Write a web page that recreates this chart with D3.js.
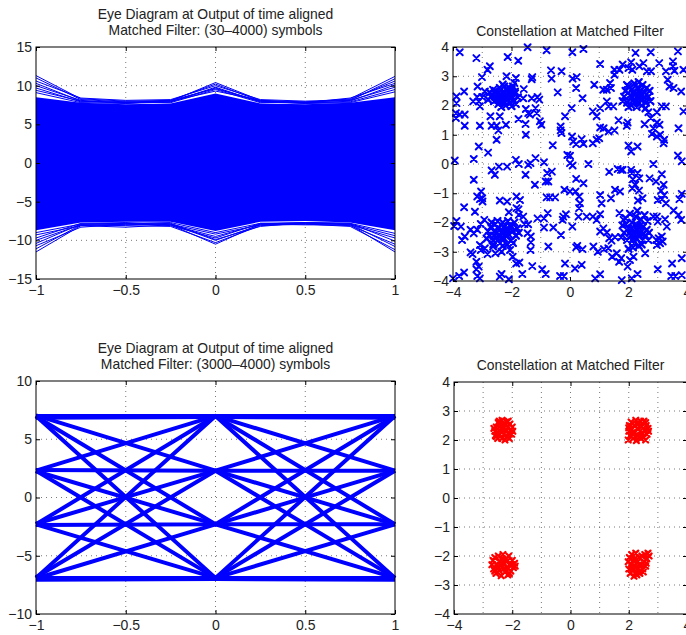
<!DOCTYPE html>
<html>
<head>
<meta charset="utf-8">
<script src="https://cdn.jsdelivr.net/npm/d3@7"></script>
<style>
body {margin: 0; background: #fff}
text {font-family: "Liberation Sans", Arial, Helvetica, sans-serif; fill: #222}
</style>
</head>
<body>
<svg id="fig" width="686" height="635"></svg>
<script>

// ---- eye diagram, 30-4000 symbols (top left) ----
var eyeT = [-1, -0.75, -0.5, -0.25, 0, 0.25, 0.5, 0.75, 1]
var eyeFillTop = [8.5, 7.8, 7.6, 7.7, 9.0, 7.7, 7.6, 7.8, 8.5]
var eyeFillBot = [-8.7, -7.7, -7.6, -7.6, -8.8, -7.6, -7.5, -7.7, -8.7]
var eyeEdgeTraces = [
	[11.3, 8.3, 8.0, 8.1, 10.2, 8.0, 7.8, 8.3, 11.2],
	[11.0, 8.2, 7.9, 8.0, 10.4, 8.1, 7.9, 8.1, 10.9],
	[10.6, 8.4, 8.1, 8.2, 10.0, 8.2, 8.0, 8.2, 10.6],
	[10.3, 8.0, 7.8, 7.9, 9.8, 7.9, 7.8, 8.4, 10.3],
	[10.0, 8.1, 7.7, 8.1, 9.6, 8.0, 7.7, 8.0, 10.1],
	[9.7, 7.9, 7.9, 7.8, 9.5, 7.8, 7.9, 8.1, 9.8],
	[9.4, 8.0, 7.8, 8.0, 9.3, 8.1, 7.8, 7.9, 9.5],
	[9.1, 7.8, 7.7, 7.9, 9.7, 7.9, 7.7, 7.8, 9.2],
	[-11.5, -8.1, -8.3, -8.0, -10.5, -7.9, -7.7, -8.0, -11.5],
	[-11.1, -8.0, -8.1, -8.2, -10.3, -8.1, -7.9, -8.2, -11.2],
	[-10.7, -8.3, -7.9, -7.9, -10.0, -8.0, -7.8, -7.9, -10.8],
	[-10.4, -7.9, -7.8, -8.1, -9.7, -7.8, -7.9, -8.1, -10.5],
	[-10.0, -8.0, -8.0, -7.8, -9.9, -8.2, -7.7, -7.8, -10.1],
	[-9.7, -7.8, -7.7, -8.0, -9.5, -7.9, -8.0, -8.0, -9.7],
	[-9.3, -8.1, -7.9, -7.9, -9.2, -8.0, -7.8, -7.9, -9.4],
	[-9.0, -7.9, -7.8, -7.7, -9.0, -7.8, -7.7, -7.8, -9.1]
]

// ---- eye diagram, 3000-4000 symbols (bottom left) ----
var eye2T = [-1, 0, 1]
var eye2Traces = [
	[7.0, 7.0, 7.0], [7.05, 2.3, 2.3], [6.95, -2.3, -2.3], [7.0, -6.9, -6.9],
	[2.3, 7.0, 2.3], [2.35, 2.3, -2.3], [2.25, -2.3, -6.9], [2.3, -6.9, 7.0],
	[-2.3, 7.0, -2.3], [-2.25, 2.3, -6.9], [-2.35, -2.3, 7.0], [-2.3, -6.9, 2.3],
	[-6.9, 7.0, -6.9], [-6.85, 2.3, 7.0], [-6.95, -2.3, 2.3], [-6.9, -6.9, -2.3],
	[6.85, 6.9, 6.85], [-7.05, -7.0, -7.05]
]

// ---- constellation, noisy (top right) ----
var constScatter = [
	[-3.77,3.82],[-3.2,3.62],[-2.13,3.66],[-1.77,3.53],[-1.45,3.99],[-0.8,3.89],[0.08,3.82],[0.46,3.93],
	[2.24,3.8],[2.76,3.82],[3.69,3.85],[3.52,3.51],[1.03,3.42],[2.51,3.45],[3.05,3.45],[2.09,3.48],
	[-2.82,3.22],[-2.74,3.34],[-3.01,2.97],[-3.16,2.65],[-3.88,2.31],[-3.62,2.48],[-2.17,3.0],[-1.9,2.77],
	[-1.85,2.94],[-1.31,2.9],[-1.29,2.97],[-0.63,2.92],[-0.65,3.2],[-0.29,3.17],[0.09,2.92],[0.23,2.97],
	[0.21,2.6],[-0.42,2.45],[0.43,2.25],[0.83,2.71],[1.26,2.54],[1.14,2.54],[1.37,2.77],[1.52,3.05],
	[1.69,3.22],[1.52,3.22],[1.8,3.4],[1.4,2.6],[2.13,3.22],[2.0,3.28],[2.37,3.34],[2.63,3.17],
	[2.77,3.17],[3.28,3.17],[3.52,3.34],[3.57,3.19],[3.88,3.22],[3.34,2.88],[3.54,2.6],[3.8,2.48],[3.4,2.65],
	[-3.88,2.08],[-3.31,2.14],[-3.12,2.14],[-3.17,2.29],[-3.08,1.97],[-3.0,2.29],[-2.91,2.48],[-2.63,2.54],
	[-1.88,2.48],[-1.6,2.25],[-1.58,2.56],[-1.31,2.25],[-1.11,2.29],[-1.05,2.2],[-1.51,1.88],[-1.43,1.74],
	[-1.37,1.69],[-1.18,1.91],[-1.14,1.74],[-3.9,1.74],[-3.77,1.69],[-3.6,1.69],[-3.9,1.57],[-2.72,1.63],
	[-2.4,1.63],[-1.76,1.54],[0.06,1.91],[-0.17,1.63],[0.78,1.8],[1.03,1.91],[0.91,1.63],[1.26,2.14],
	[1.32,1.97],[1.48,1.97],[3.14,1.97],[3.28,1.97],[2.97,1.77],[2.68,1.77],[2.76,1.57],[3.88,1.8],
	[-3.6,1.31],[-3.08,1.31],[-2.68,1.31],[-2.51,1.31],[-2.45,1.15],[-2.19,1.34],[-2.51,0.83],[-1.52,1.37],
	[-1.51,1.0],[-1.03,1.46],[-0.98,1.34],[-0.32,1.28],[-0.32,1.15],[-0.29,1.06],[-0.59,0.64],[0.07,0.94],
	[0.11,0.77],[0.21,0.68],[0.4,0.85],[0.46,0.69],[0.78,0.71],[1.0,0.88],[0.91,0.83],[1.03,1.25],
	[1.15,1.22],[1.32,1.11],[1.52,1.15],[1.66,1.49],[1.94,1.31],[1.97,1.42],[2.55,1.36],[2.85,1.22],
	[2.97,1.42],[3.06,1.34],[2.8,1.03],[2.97,0.94],[3.08,1.0],[3.22,0.83],[3.2,0.71],[3.71,1.22],
	[2.0,0.63],[2.09,0.43],[2.31,0.6],[-3.12,0.6],[-2.8,0.39],
	[-3.94,0.12],[-3.29,0.17],[-2.68,-0.22],[-2.57,-0.37],[-2.43,-0.09],[-2.15,-0.09],[-1.85,0.14],[-1.75,0.0],
	[-1.52,-0.37],[-1.43,-0.03],[-1.35,0.03],[-1.18,0.2],[-0.89,0.06],[-0.78,-0.31],[-0.62,-0.26],[-0.74,-0.6],
	[-0.09,0.31],[0.0,0.28],[0.0,0.03],[0.09,-0.05],[0.21,-0.51],[0.46,-0.66],[0.63,0.0],[1.34,-0.27],
	[1.63,-0.17],[1.74,-0.2],[2.11,-0.31],[2.15,-0.52],[2.23,-0.71],[2.37,-0.49],[2.85,0.0],[2.72,-0.49],
	[3.14,-0.35],[3.69,0.29],[2.31,-0.31],[1.8,-0.2],[3.82,0.09],[2.09,-0.2],
	[-3.29,-0.54],[-3.17,-1.11],[-3.08,-1.2],[-3.0,-1.17],[-3.04,-0.94],[-2.99,-1.28],[-3.62,-1.48],[-2.4,-1.25],
	[-2.15,-1.28],[-1.83,-1.11],[-1.71,-1.23],[-1.76,-1.55],[-1.2,-0.71],[-0.83,-0.6],[-0.8,-1.14],[-0.68,-1.14],
	[-0.51,-1.14],[-0.19,-0.88],[0.0,-0.94],[0.19,-0.94],[0.31,-1.11],[0.34,-1.34],[0.31,-1.51],[1.03,-1.06],
	[1.08,-1.34],[1.4,-1.17],[1.54,-0.88],[1.71,-0.94],[2.13,-0.83],[2.32,-1.25],[2.36,-0.91],[2.48,-1.17],
	[3.0,-1.23],[3.11,-0.92],[3.2,-0.71],[3.14,-1.2],[3.28,-1.34],[3.74,-1.2],[3.82,-1.02],[2.94,-0.6],[3.22,-1.06],
	[-3.96,-2.12],[-3.88,-1.95],[-3.73,-2.14],[-3.25,-1.63],[-3.05,-2.05],[-2.93,-1.91],[-3.6,-2.48],[-3.69,-2.6],
	[-2.09,-1.65],[-1.83,-1.51],[-1.75,-1.74],[-1.6,-1.8],[-1.56,-2.05],[-1.43,-2.06],[-1.45,-2.37],[-1.34,-2.48],
	[-1.11,-1.86],[-0.89,-2.17],[-0.89,-1.86],[-0.76,-1.68],[-0.57,-2.17],[-0.31,-2.43],[-0.25,-1.91],[-0.23,-1.8],
	[-0.14,-1.72],[0.08,-2.14],[0.29,-1.8],[0.57,-1.8],[0.78,-1.8],[0.91,-1.91],[1.03,-1.72],[1.03,-2.31],
	[1.14,-2.2],[1.26,-2.34],[1.34,-2.54],[1.42,-2.62],[1.54,-2.5],[1.69,-1.68],[1.83,-1.91],[2.85,-1.8],
	[2.97,-1.8],[3.0,-1.97],[3.25,-1.89],[3.54,-1.59],[3.71,-1.74],[3.8,-1.91],[3.31,-2.14],[3.14,-2.48],
	[-3.4,-2.25],[-3.17,-2.25],[-3.29,-2.37],
	[-3.4,-3.02],[-3.33,-3.08],[-3.08,-2.77],[-3.05,-2.94],[-2.91,-2.88],[-2.82,-3.08],[-2.63,-2.82],[-2.55,-3.05],
	[-2.34,-3.0],[-2.05,-2.94],[-1.96,-3.17],[-1.84,-3.4],[-1.73,-3.37],[-1.29,-3.49],[-1.35,-2.94],[-1.34,-2.68],
	[-0.74,-2.82],[0.21,-2.85],[0.25,-2.8],[0.43,-2.91],[0.8,-2.82],[0.95,-3.0],[1.16,-2.91],[1.31,-2.88],
	[1.44,-3.17],[1.6,-3.05],[1.68,-3.34],[1.75,-3.22],[1.97,-3.51],[2.05,-3.28],[2.17,-3.17],[2.57,-3.05],
	[2.95,-2.6],[3.03,-2.54],[3.08,-2.71],[3.17,-2.65],[2.97,-2.77],[3.82,-3.22],[3.49,-3.4],[-0.17,-3.4],
	[-3.2,-3.34],[-3.12,-3.51],
	[-4.0,-3.91],[-3.79,-3.83],[-3.62,-3.71],[-3.2,-3.6],[-3.17,-3.83],[-3.08,-3.91],[-2.34,-3.76],[-2.4,-3.85],
	[-2.09,-3.94],[-1.63,-3.76],[-0.95,-3.6],[-0.83,-3.76],[-0.34,-3.83],[-0.21,-3.83],[0.17,-3.57],[0.4,-3.45],
	[0.86,-3.91],[1.03,-3.77],[1.77,-3.97],[2.11,-3.91],[2.31,-3.76],[3.0,-3.6],[3.46,-3.83],[3.6,-3.83],[3.82,-3.8]
]
var constCoreTL = [
	[-2.65,2.35],[-2.55,2.5],[-2.5,2.2],[-2.45,2.05],[-2.4,2.6],[-2.38,2.38],[-2.33,2.15],[-2.3,2.45],
	[-2.28,2.28],[-2.25,2.65],[-2.2,2.0],[-2.18,2.35],[-2.15,2.52],[-2.12,2.2],[-2.08,2.4],[-2.05,2.1],
	[-2.0,2.55],[-1.98,2.3],[-1.92,2.18],[-1.88,2.42],[-1.85,2.05],[-2.6,2.15],[-2.7,2.3],[-2.35,1.95],
	[-2.22,2.12],[-2.42,2.45],[-2.1,2.62],[-1.95,2.65],[-2.75,2.45],[-1.78,2.28],[-2.5,2.38],[-2.0,1.98],
	[-2.3,2.72],[-2.8,2.2],[-2.25,2.4],[-2.4,2.25],[-2.1,2.3],[-2.55,2.3],[-2.0,2.42],[-2.3,2.1]
]
var constCoreTR = [
	[1.85,2.3],[1.9,2.5],[1.95,2.1],[2.0,2.65],[2.05,2.35],[2.1,2.0],[2.12,2.55],[2.18,2.2],
	[2.2,2.75],[2.25,2.4],[2.28,1.95],[2.3,2.6],[2.33,2.1],[2.38,2.32],[2.4,2.5],[2.45,2.0],
	[2.48,2.7],[2.5,2.22],[2.55,2.45],[2.6,2.1],[2.62,2.6],[2.68,2.3],[2.72,2.5],[2.0,1.95],
	[2.15,2.42],[2.35,2.8],[2.58,1.9],[1.8,2.15],[2.42,2.2],[2.2,2.1],[2.75,2.15],[1.95,2.7],
	[2.28,2.28],[2.45,2.38],[2.1,2.3],[2.35,2.45],[2.55,2.28],[2.25,2.15]
]
var constCoreBL = [
	[-2.8,-2.3],[-2.75,-2.45],[-2.7,-2.15],[-2.65,-2.6],[-2.6,-2.3],[-2.55,-2.05],[-2.5,-2.5],[-2.45,-2.2],
	[-2.4,-2.7],[-2.35,-2.35],[-2.3,-2.0],[-2.25,-2.55],[-2.2,-2.25],[-2.15,-2.75],[-2.1,-2.4],[-2.05,-2.1],
	[-2.0,-2.6],[-1.95,-2.3],[-1.9,-2.0],[-1.85,-2.45],[-1.8,-2.2],[-1.75,-2.35],[-2.62,-2.75],[-2.3,-2.8],
	[-2.48,-1.95],[-2.12,-1.95],[-2.85,-2.55],[-1.95,-2.7],[-2.4,-2.45],[-2.2,-2.45],[-2.0,-2.15],[-2.68,-2.0],
	[-2.3,-2.3],[-2.5,-2.35],[-2.1,-2.25],[-2.35,-2.55],[-2.6,-2.45],[-2.25,-2.15]
]
var constCoreBR = [
	[1.8,-2.1],[1.85,-2.35],[1.9,-1.85],[1.95,-2.6],[2.0,-2.2],[2.05,-1.7],[2.08,-2.45],[2.12,-2.0],
	[2.18,-2.7],[2.2,-2.3],[2.25,-1.8],[2.28,-2.55],[2.3,-2.1],[2.35,-2.8],[2.4,-2.35],[2.42,-1.9],
	[2.48,-2.6],[2.5,-2.15],[2.55,-1.75],[2.58,-2.45],[2.62,-2.25],[2.65,-1.95],[2.68,-2.6],[2.0,-2.9],
	[2.3,-1.6],[1.75,-2.5],[2.15,-2.85],[2.45,-2.75],[2.1,-2.2],[2.35,-2.4],[2.7,-2.35],[1.92,-2.05],
	[2.22,-2.42],[2.4,-2.1],[2.15,-2.6],[2.3,-2.25],[2.5,-2.4],[2.05,-2.35]
]

// ---- constellation, clean (bottom right) ----
var cleanTL = [
	[-2.6,2.3],[-2.58,2.15],[-2.55,2.45],[-2.5,2.05],[-2.48,2.6],[-2.45,2.32],[-2.42,2.2],[-2.4,2.5],
	[-2.36,2.05],[-2.35,2.68],[-2.32,2.38],[-2.3,2.2],[-2.27,2.55],[-2.25,2.0],[-2.22,2.3],[-2.2,2.62],
	[-2.18,2.12],[-2.15,2.45],[-2.12,2.25],[-2.1,2.05],[-2.08,2.55],[-2.05,2.35],[-2.02,2.2],[-2.0,2.45],
	[-2.63,2.4],[-2.52,2.25],[-2.38,2.38],[-2.28,2.45],[-2.14,2.65],[-1.98,2.3],[-2.45,2.65],[-2.55,2.12]
]
var cleanTR = [
	[1.98,2.0],[2.0,2.3],[2.02,2.5],[2.05,2.15],[2.08,2.62],[2.12,2.38],[2.15,2.05],[2.18,2.5],
	[2.2,2.25],[2.24,2.68],[2.26,1.98],[2.3,2.4],[2.32,2.15],[2.35,2.58],[2.38,2.3],[2.42,2.05],
	[2.45,2.48],[2.48,2.22],[2.52,2.65],[2.55,2.35],[2.58,2.0],[2.6,2.5],[2.63,2.2],[2.66,2.4],
	[2.68,2.3],[2.1,2.25],[2.28,2.55],[2.4,2.65],[2.5,2.1],[2.0,2.42],[2.22,2.12],[2.58,2.6]
]
var cleanBL = [
	[-2.7,-2.3],[-2.66,-2.15],[-2.64,-2.45],[-2.6,-2.05],[-2.56,-2.6],[-2.52,-2.3],[-2.48,-2.0],[-2.45,-2.5],
	[-2.42,-2.18],[-2.38,-2.68],[-2.35,-2.38],[-2.32,-1.95],[-2.28,-2.25],[-2.25,-2.55],[-2.22,-2.1],[-2.18,-2.4],
	[-2.15,-2.65],[-2.12,-2.0],[-2.08,-2.3],[-2.05,-2.52],[-2.0,-2.15],[-1.96,-2.4],[-1.92,-2.25],[-1.9,-2.35],
	[-2.5,-2.4],[-2.3,-2.45],[-2.2,-2.2],[-2.4,-2.3],[-2.6,-2.52],[-2.1,-2.6],[-2.35,-2.1],[-2.0,-2.3]
]
var cleanBR = [
	[1.98,-2.2],[2.0,-2.45],[2.02,-2.05],[2.05,-2.6],[2.08,-2.3],[2.1,-1.95],[2.13,-2.5],[2.16,-2.15],
	[2.18,-2.7],[2.2,-2.35],[2.24,-1.9],[2.26,-2.55],[2.3,-2.2],[2.32,-2.42],[2.35,-2.05],[2.38,-2.6],
	[2.42,-2.3],[2.45,-2.0],[2.48,-2.45],[2.52,-2.2],[2.55,-1.95],[2.58,-2.35],[2.62,-2.1],[2.66,-1.9],
	[2.7,-2.0],[2.2,-2.1],[2.35,-2.3],[2.4,-2.5],[2.1,-2.4],[2.28,-2.65],[2.5,-2.55],[2.6,-2.25]
]

// ---- ticks and titles ----
var eyeXTicks = [-1, -0.5, 0, 0.5, 1]
var eyeYTicks1 = [-15, -10, -5, 0, 5, 10, 15]
var eyeYTicks2 = [-10, -5, 0, 5, 10]
var constTicks = [-4, -3, -2, -1, 0, 1, 2, 3, 4]
var constXTicks = [-4, -2, 0, 2, 4]
var titleEye1 = ['Eye Diagram at Output of time aligned', 'Matched Filter: (30\u20134000) symbols']
var titleEye2 = ['Eye Diagram at Output of time aligned', 'Matched Filter: (3000\u20134000) symbols']
var titleConst = ['Constellation at Matched Filter']


var svg = d3.select('#fig'),
	fmt = d3.format('~g'),
	BLUE = '#0000ff',
	RED = '#ff0000'

var Panel = function(box, xdom, ydom, xticks, yticks, gridx, title, titleY) {
	this.box = box
	this.x = d3.scaleLinear().domain(xdom).range([box.l, box.r])
	this.y = d3.scaleLinear().domain(ydom).range([box.b, box.t])
	this.g = svg.append('g')
	var x = this.x, y = this.y, g = this.g

	// dotted grid below the data
	var grid = g.append('g').attr('stroke', '#555').attr('stroke-width', 0.8).attr('stroke-dasharray', '1,4')
	grid.selectAll('.gx').data(gridx.filter(function(t) {return t > xdom[0] && t < xdom[1]}))
		.enter().append('line')
		.attr('x1', x).attr('x2', x).attr('y1', box.t).attr('y2', box.b)
	grid.selectAll('.gy').data(yticks.filter(function(t) {return t > ydom[0] && t < ydom[1]}))
		.enter().append('line')
		.attr('y1', y).attr('y2', y).attr('x1', box.l).attr('x2', box.r)

	this.data = g.append('g')
	this.front = g.append('g')
	var f = this.front

	var style = function(sel) {
		sel.select('.domain').remove()
		sel.selectAll('line').attr('stroke', '#000')
		sel.selectAll('text').attr('font-size', 14).attr('font-family', null).attr('fill', '#222')
	}
	f.append('g').attr('transform', 'translate(0,' + box.b + ')')
		.call(d3.axisBottom(x).tickValues(xticks).tickSize(-4).tickPadding(6).tickFormat(fmt)).call(style)
	f.append('g').attr('transform', 'translate(0,' + box.t + ')')
		.call(d3.axisTop(x).tickValues(xticks).tickSize(-4).tickFormat('')).call(style)
	f.append('g').attr('transform', 'translate(' + box.l + ',0)')
		.call(d3.axisLeft(y).tickValues(yticks).tickSize(-4).tickPadding(4).tickFormat(fmt)).call(style)
	f.append('g').attr('transform', 'translate(' + box.r + ',0)')
		.call(d3.axisRight(y).tickValues(yticks).tickSize(-4).tickFormat('')).call(style)
	f.append('rect')
		.attr('x', box.l).attr('y', box.t).attr('width', box.r - box.l).attr('height', box.b - box.t)
		.attr('fill', 'none').attr('stroke', '#000').attr('stroke-width', 1)

	var cx = (box.l + box.r) / 2
	f.selectAll('.title').data(title).enter().append('text')
		.attr('class', 'title')
		.attr('x', cx)
		.attr('y', function(d, i) {return titleY + (i - title.length + 1) * 16})
		.attr('text-anchor', 'middle')
		.attr('font-size', 13.9)
		.text(function(d) {return d})
}

Panel.prototype.traces = function(ts, traces, color, width) {
	var x = this.x, y = this.y
	var line = d3.line().x(function(d, i) {return x(ts[i])}).y(function(d) {return y(d)})
	this.data.append('g').selectAll('path').data(traces).enter().append('path')
		.attr('d', line).attr('fill', 'none')
		.attr('stroke', color).attr('stroke-width', width)
		.attr('stroke-linejoin', 'round')
}

Panel.prototype.band = function(ts, top, bot, color) {
	var x = this.x, y = this.y
	var area = d3.area()
		.x(function(d, i) {return x(ts[i])})
		.y0(function(d, i) {return y(bot[i])})
		.y1(function(d) {return y(d)})
	this.data.append('path').datum(top).attr('d', area).attr('fill', color)
}

Panel.prototype.crosses = function(pts, color, r, width) {
	var x = this.x, y = this.y
	this.data.append('g').attr('stroke', color).attr('stroke-width', width).attr('stroke-linecap', 'round')
		.selectAll('path').data(pts).enter().append('path')
		.attr('d', function(d) {
			var px = x(d[0]), py = y(d[1])
			return 'M' + (px - r) + ',' + (py - r) + 'L' + (px + r) + ',' + (py + r) +
				'M' + (px - r) + ',' + (py + r) + 'L' + (px + r) + ',' + (py - r)
		})
}


// top left
var p1 = new Panel({l: 36, r: 395, t: 47, b: 279}, [-1, 1], [-15, 15], eyeXTicks, eyeYTicks1, eyeXTicks, titleEye1, 35)
p1.band(eyeT, eyeFillTop, eyeFillBot, BLUE)
p1.traces(eyeT, eyeEdgeTraces, BLUE, 1)

// top right
var p2 = new Panel({l: 453, r: 687, t: 47, b: 281}, [-4, 4], [-4, 4], constXTicks, constTicks, constTicks, titleConst, 36)
p2.crosses(constScatter, BLUE, 3, 2)
p2.crosses(constCoreTL.concat(constCoreTR, constCoreBL, constCoreBR), BLUE, 3, 2.3)

// bottom left
var p3 = new Panel({l: 36, r: 395, t: 381, b: 614}, [-1, 1], [-10, 10], eyeXTicks, eyeYTicks2, eyeXTicks, titleEye2, 369)
p3.traces(eye2T, eye2Traces, BLUE, 4)

// bottom right
var p4 = new Panel({l: 454, r: 687, t: 382, b: 614}, [-4, 4], [-4, 4], constXTicks, constTicks, constTicks, titleConst, 370)
p4.crosses(cleanTL.concat(cleanTR, cleanBL, cleanBR), RED, 2.5, 2.3)

</script>
</body>
</html>
